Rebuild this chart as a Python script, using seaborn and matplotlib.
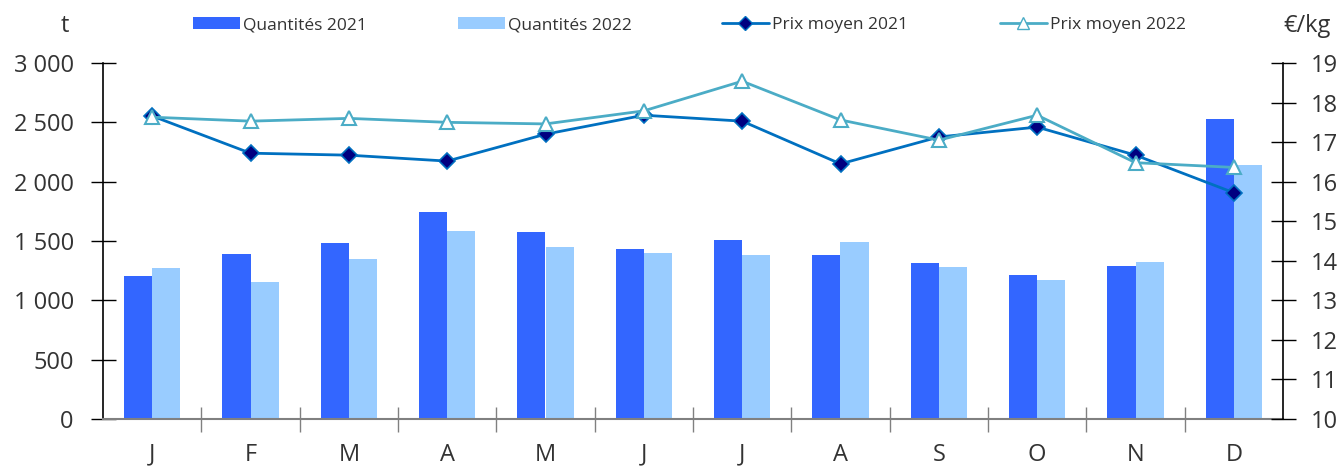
import numpy as np
import pandas as pd
import matplotlib
matplotlib.use("Agg")
import matplotlib.pyplot as plt
from matplotlib.ticker import FuncFormatter, FixedLocator, MultipleLocator
from matplotlib.patches import Patch
from matplotlib.lines import Line2D
import seaborn as sns

months = ["Janv", "Févr", "Mars", "Avr", "Mai", "Juin", "Juil", "Août", "Sept", "Oct", "Nov", "Déc"]
month_labels = ["J", "F", "M", "A", "M", "J", "J", "A", "S", "O", "N", "D"]
qty_2021 = [1205, 1390, 1480, 1744, 1576, 1435, 1508, 1385, 1313, 1213, 1289, 2528]
qty_2022 = [1270, 1157, 1348, 1584, 1450, 1399, 1382, 1492, 1281, 1171, 1323, 2138]
price_2021 = [17.66, 16.72, 16.67, 16.52, 17.20, 17.68, 17.53, 16.45, 17.13, 17.38, 16.67, 15.72]
price_2022 = [17.63, 17.53, 17.60, 17.50, 17.46, 17.79, 18.54, 17.56, 17.05, 17.68, 16.48, 16.36]

sns.set_theme(style="white")
plt.rcParams["font.family"] = ["Open Sans", "DejaVu Sans"]

c21, c22 = "#3366FF", "#99CCFF"
l21, l22 = "#0070C0", "#4BACC6"
txt = "#333333"

df = pd.DataFrame({
    "mois": months * 2,
    "qty": qty_2021 + qty_2022,
    "serie": ["Quantités 2021"] * 12 + ["Quantités 2022"] * 12,
})

fig = plt.figure(figsize=(13.38, 4.67), dpi=100)
ax = fig.add_axes([103 / 1338, 1 - 419 / 467, (1283 - 103) / 1338, (419 - 63) / 467])
sns.barplot(data=df, x="mois", y="qty", hue="serie", palette=[c21, c22],
            width=0.57, gap=0, dodge=True, ax=ax, saturation=1, legend=False,
            linewidth=0)
ax.set_xlim(-0.5, 11.5)
ax.set_ylim(0, 3000)
ax.set_xlabel("")
ax.set_ylabel("")

ax2 = ax.twinx()
x = np.arange(len(months))
sns.lineplot(x=x, y=price_2021, ax=ax2, color=l21, linewidth=2, marker="D",
             markersize=8, markerfacecolor="#000080", markeredgecolor=l21,
             markeredgewidth=1.2, sort=False)
sns.lineplot(x=x, y=price_2022, ax=ax2, color=l22, linewidth=2, marker="^",
             markersize=10, markerfacecolor="white", markeredgecolor=l22,
             markeredgewidth=1.5, sort=False)
ax2.set_ylim(10, 19)
ax2.set_xlim(-0.5, 11.5)

for a in (ax, ax2):
    a.spines["top"].set_visible(False)
ax.spines["left"].set_color("black")
ax.spines["left"].set_linewidth(1.2)
ax.spines["right"].set_visible(False)
ax.spines["bottom"].set_color("#808080")
ax.spines["bottom"].set_linewidth(1.5)
ax2.spines["left"].set_visible(False)
ax2.spines["bottom"].set_visible(False)
ax2.spines["right"].set_color("black")
ax2.spines["right"].set_linewidth(1.2)

fmt = FuncFormatter(lambda v, p: f"{int(v):,}".replace(",", " "))
ax.yaxis.set_major_locator(MultipleLocator(500))
ax.yaxis.set_major_formatter(fmt)
ax.tick_params(axis="y", direction="inout", length=18, width=1, color="black",
               labelsize=17, labelcolor=txt, pad=12, left=True)
ax2.yaxis.set_major_locator(MultipleLocator(1))
ax2.tick_params(axis="y", direction="inout", length=18, width=1, color="black",
                labelsize=17, labelcolor=txt, pad=11, right=True)

ax.set_xticks(x)
ax.set_xticklabels(month_labels)
ax.xaxis.set_minor_locator(FixedLocator(np.arange(0.5, 11, 1)))
ax.tick_params(axis="x", which="major", length=0, labelsize=17, labelcolor=txt, pad=17)
ax.tick_params(axis="x", which="minor", direction="inout", length=18, width=1,
               color="#808080", bottom=True)
ax2.set_ylabel("")
ax2.set_xlabel("")

fig.text(65 / 1338, 1 - 26 / 467, "t", fontsize=17, color=txt, ha="center", va="center")
fig.text(1307 / 1338, 1 - 26 / 467, "€/kg", fontsize=17, color=txt, ha="center", va="center")

handles = [
    Patch(facecolor=c21, edgecolor="none", label="Quantités 2021"),
    Patch(facecolor=c22, edgecolor="none", label="Quantités 2022"),
    Line2D([], [], color=l21, lw=2, marker="D", markersize=7,
           markerfacecolor="#000080", markeredgecolor=l21, label="Prix moyen 2021"),
    Line2D([], [], color=l22, lw=2, marker="^", markersize=8,
           markerfacecolor="white", markeredgecolor=l22, label="Prix moyen 2022"),
]
starts = [193, 458, 722, 1000]
for h, s in zip(handles, starts):
    fig.legend(handles=[h], loc="center left", bbox_to_anchor=(s / 1338, 1 - 25 / 467),
               frameon=False, fontsize=12.5, handletextpad=0.2, labelcolor=txt,
               borderaxespad=0, borderpad=0, handlelength=2.7, handleheight=0.65)

fig.savefig("out.png", dpi=100)
